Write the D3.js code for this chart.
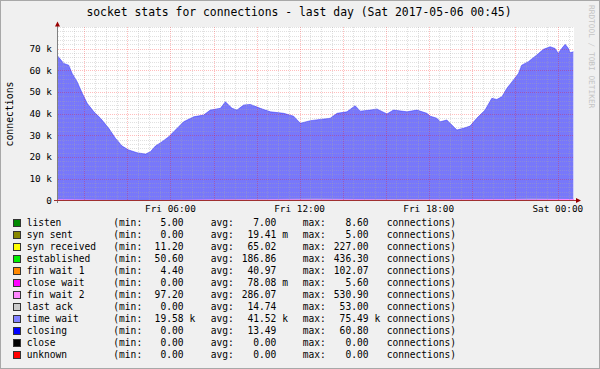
<!DOCTYPE html>
<html><head><meta charset="utf-8">
<script src="https://cdn.jsdelivr.net/npm/d3@7"></script>
<style>
body{margin:0;background:#f0f0f0}
svg{display:block}
text{font-family:"DejaVu Sans Mono",monospace;fill:#000}
</style>
</head><body><svg id="c" width="600" height="369"></svg>
<script>
// ---------- data ----------
const title = "socket stats for connections - last day (Sat 2017-05-06 00:45)";
const yLabel = "connections";
const yTickValues = [0, 10000, 20000, 30000, 40000, 50000, 60000, 70000];
const yTickLabels = ["0", "10 k", "20 k", "30 k", "40 k", "50 k", "60 k", "70 k"];
const xTickHours = [6, 12, 18, 24];
const xTickLabels = ["Fri 06:00", "Fri 12:00", "Fri 18:00", "Sat 00:00"];

// hours since Fri 00:00
const timeWaitHours = [0.76,1.04,1.27,1.43,1.66,1.90,2.13,2.44,2.75,3.13,3.44,3.75,4.06,4.45,4.84,5.07,5.30,5.61,5.92,6.31,6.61,7.08,7.54,7.85,8.32,8.55,8.86,9.09,9.40,9.71,10.17,10.64,11.26,11.72,12.03,12.50,12.96,13.42,13.74,14.20,14.58,14.82,15.28,15.59,16.06,16.36,16.99,17.45,17.91,18.07,18.38,18.53,18.84,19.31,19.61,19.92,20.23,20.62,20.93,21.16,21.40,21.63,21.93,22.17,22.32,22.63,23.02,23.33,23.64,23.87,24.02,24.18,24.34,24.49,24.57,24.72];
const timeWaitK = [66.6,63.2,62.4,58.6,54.8,49.4,44.8,40.9,37.9,33.3,28.7,25.1,23.3,22.0,21.4,22.5,25.1,27.1,29.4,33.3,36.3,38.6,39.4,41.7,42.5,45.5,42.5,41.7,44.0,44.3,42.5,40.9,40.2,38.9,35.6,36.8,37.4,37.9,40.2,40.9,43.7,41.2,41.7,42.2,39.9,41.7,40.9,41.7,40.2,38.9,37.9,36.3,37.1,32.5,33.3,34.3,37.9,41.7,47.1,46.6,47.8,51.7,55.5,58.6,62.4,64.0,67.1,69.7,70.9,70.1,67.8,70.1,72.0,70.1,68.1,68.6];

// small series, sampled every 2 hours
const smallHours = [0.75,2.75,4.75,6.75,8.75,10.75,12.75,14.75,16.75,18.75,20.75,22.75,24.75];
const listenVals      = [7,7,6,7,8,7,7,7,6,7,7,8,7];
const synSentVals     = [0,0,0,0,0,0,0,0,0,0,0,0,0];
const synRecvVals     = [60,40,20,40,70,80,75,70,70,70,80,90,80];
const establishedVals = [120,60,55,90,170,230,260,240,210,220,190,200,150];
const finWait1Vals    = [40,20,10,30,45,55,50,45,45,45,50,50,45];
const closeWaitVals   = [0,0,0,0,0,0,0,0,0,0,0,0,0];
const finWait2Vals    = [300,180,110,150,260,320,350,330,300,310,330,400,450];
const lastAckVals     = [15,10,5,10,15,20,20,15,15,15,15,20,15];

const seriesNames  = ["listen","syn sent","syn received","established","fin wait 1","close wait","fin wait 2","last ack","time wait","closing","close","unknown"];
const seriesColors = ["#008800","#888800","#ffff00","#00ee00","#ff8800","#ff00ff","#ff88ff","#cccccc","#8080ff","#0000ff","#000000","#ff0000"];
const minVals  = ["5.00","0.00","11.20","50.60","4.40","0.00","97.20","0.00","19.58","0.00","0.00","0.00"];
const minUnits = ["","","","","","","","","k","","",""];
const avgVals  = ["7.00","19.41","65.02","186.86","40.97","78.08","286.07","14.74","41.52","13.49","0.00","0.00"];
const avgUnits = ["","m","","","","m","","","k","","",""];
const maxVals  = ["8.60","5.00","227.00","436.30","102.07","5.60","530.90","53.00","75.49","60.80","0.00","0.00"];
const maxUnits = ["","","","","","","","","k","","",""];

// ---------- drawing ----------
const svg = d3.select("#c");
const W = 600, H = 369;
svg.append("rect").attr("x",0).attr("y",0).attr("width",W).attr("height",H).attr("fill","#f0f0f0");

const x = d3.scaleLinear().domain([0.75, 24.75]).range([57.5, 574]);
const y = d3.scaleLinear().domain([0, 80000]).range([200.5, 27]);

// canvas
svg.append("rect").attr("x",57.5).attr("y",27).attr("width",574-57.5).attr("height",200.5-27).attr("fill","#fff");

// time wait area
const tw = timeWaitHours.map((h,i)=>({h, v: timeWaitK[i]*1000}));
svg.append("path").datum(tw)
  .attr("d", d3.area().x(d=>x(d.h)).y0(y(0)).y1(d=>y(d.v)))
  .attr("fill","#7878fa");
svg.append("path").datum(tw)
  .attr("d", d3.line().x(d=>x(d.h)).y(d=>y(d.v)))
  .attr("fill","none").attr("stroke","#2a2aff").attr("stroke-width",0.9).attr("stroke-opacity",0.55);

// small stacked series at bottom
const smallSets = [listenVals, synSentVals, synRecvVals, establishedVals, finWait1Vals, closeWaitVals, finWait2Vals, lastAckVals];
const smallRows = smallHours.map((h,i)=>{ const o={h}; smallSets.forEach((s,k)=>o["s"+k]=s[i]); return o; });
const stack = d3.stack().keys(smallSets.map((_,k)=>"s"+k));
const stacked = stack(smallRows);
stacked.forEach((layer,k)=>{
  svg.append("path").datum(layer)
    .attr("d", d3.area().x(d=>x(d.data.h)).y0(d=>y(d[0])).y1(d=>y(d[1])))
    .attr("fill", seriesColors[k]);
});

// grid
const gridG = svg.append("g").attr("shape-rendering","crispEdges");
const minorX = d3.range(1, 24.75, 0.5).filter(h=>h%2!==0);
const majorX = d3.range(2, 24.75, 2);
const minorY = d3.range(2000, 80001, 2000).filter(v=>v%10000!==0 || v===80000);
const majorY = yTickValues.filter(v=>v>0);
const px = v=>Math.round(v)+0.5;
const minorCol = "rgba(170,170,170,0.36)", majorCol = "rgba(255,0,0,0.26)";
minorX.forEach(h=>gridG.append("line").attr("x1",px(x(h))).attr("x2",px(x(h))).attr("y1",27).attr("y2",200.5)
  .attr("stroke",minorCol).attr("stroke-dasharray","1,1"));
minorY.forEach(v=>gridG.append("line").attr("x1",57.5).attr("x2",574).attr("y1",px(y(v))).attr("y2",px(y(v)))
  .attr("stroke",minorCol).attr("stroke-dasharray","1,1"));
majorX.forEach(h=>gridG.append("line").attr("x1",px(x(h))).attr("x2",px(x(h))).attr("y1",27).attr("y2",200.5)
  .attr("stroke",majorCol).attr("stroke-dasharray","1,1"));
majorY.forEach(v=>gridG.append("line").attr("x1",57.5).attr("x2",574).attr("y1",px(y(v))).attr("y2",px(y(v)))
  .attr("stroke",majorCol).attr("stroke-dasharray","1,1"));

// axes
const axG = svg.append("g").attr("shape-rendering","crispEdges");
axG.append("line").attr("x1",57.5).attr("x2",57.5).attr("y1",203).attr("y2",26).attr("stroke","#808080");
axG.append("line").attr("x1",54).attr("x2",577).attr("y1",200.5).attr("y2",200.5).attr("stroke","#a03030");
// arrows
svg.append("path").attr("d",`M55,26.5L60,26.5L57.5,21.5Z`).attr("fill","#990000");
svg.append("path").attr("d",`M576,198L576,203L581,200.5Z`).attr("fill","#990000");

// y tick labels
svg.append("g").selectAll("text").data(yTickValues).join("text")
  .attr("x",52).attr("y",d=>y(d)).attr("dy","0.35em").attr("text-anchor","end")
  .attr("font-size","9.4px").text((d,i)=>yTickLabels[i]);
// x tick labels
svg.append("g").selectAll("text").data(xTickHours).join("text")
  .attr("x",d=>x(d)).attr("y",211.5).attr("text-anchor","middle")
  .attr("font-size","9.4px").text((d,i)=>xTickLabels[i]);

// y label
svg.append("text").attr("transform","translate(13,114) rotate(-90)").attr("text-anchor","middle")
  .attr("font-size","9.8px").text(yLabel);

// title
svg.append("text").attr("x",299).attr("y",16).attr("text-anchor","middle").attr("font-size","11.4px").text(title);

// watermark
svg.append("text").attr("transform","translate(589,5) rotate(90)").attr("font-size","7.8px")
  .style("fill","#c4c4c4").text("RRDTOOL / TOBI OETIKER");

// legend
const lg = svg.append("g").attr("font-size","9.6px");
seriesNames.forEach((name,i)=>{
  const cy = 222.7 + i*12;
  lg.append("rect").attr("x",13.5).attr("y",cy-3.5).attr("width",7).attr("height",7)
    .attr("fill",seriesColors[i]).attr("stroke","#333").attr("shape-rendering","crispEdges");
  const t = (xx, s, anchor)=>lg.append("text").attr("x",xx).attr("y",cy).attr("dy","0.35em")
     .attr("text-anchor",anchor||"start").text(s);
  t(26.7, name);
  t(113.3, "(min:");
  t(183.5, minVals[i], "end");
  if (minUnits[i]) t(189.5, minUnits[i]);
  t(210.7, "avg:");
  t(276.3, avgVals[i], "end");
  if (avgUnits[i]) t(282.3, avgUnits[i]);
  t(302.7, "max:");
  t(368.5, maxVals[i], "end");
  if (maxUnits[i]) t(374.5, maxUnits[i]);
  t(386.7, "connections)");
});

// frame
svg.append("rect").attr("x",0.5).attr("y",0.5).attr("width",W-1).attr("height",H-1)
  .attr("fill","none").attr("stroke","#a8a8a8");
</script>
</body></html>
